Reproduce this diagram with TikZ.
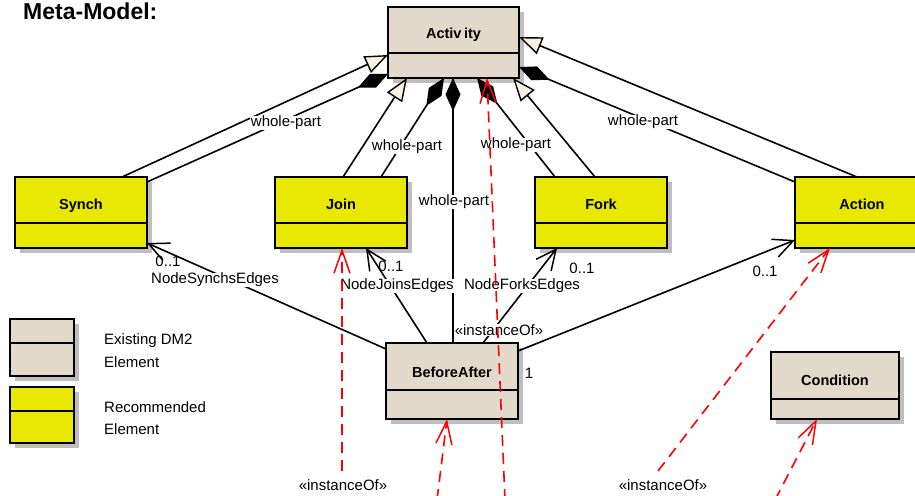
\documentclass[tikz,border=0pt]{standalone}
\usepackage{fontspec}
\setmainfont{Liberation Sans}
\usetikzlibrary{arrows.meta,calc,shadows}

\definecolor{oldfill}{RGB}{226,217,203}
\definecolor{newfill}{RGB}{232,232,0}
\definecolor{shade}{RGB}{190,190,190}
\definecolor{cream}{RGB}{250,240,225}
\definecolor{linkred}{RGB}{255,0,0}

\tikzset{
  classbox/.style={draw=black, line width=1.7pt, anchor=north west,
    inner sep=0pt, outer sep=0pt,
    drop shadow={shadow xshift=5pt, shadow yshift=-5pt, fill=shade, opacity=1}},
  divider/.style={draw=black, line width=1.7pt},
  classname/.style={anchor=base, font=\bfseries\fontsize{14.5}{14.5}\selectfont, inner sep=0pt},
  txt/.style={font=\fontsize{15}{15}\selectfont, inner sep=0.5pt},
  lbl/.style={txt, fill=white},
  gen/.style={draw=black, line width=1.6pt,
    -{Triangle[length=23pt,width=18pt,fill=cream,line width=1.4pt]}},
  comp/.style={draw=black, line width=1.6pt,
    -{Diamond[length=33pt,width=15pt,fill=black]}},
  assoc/.style={draw=black, line width=1.6pt,
    -{Straight Barb[length=20pt,width=19pt,line width=1.5pt]}},
  instof/.style={draw=linkred, line width=1.6pt, dash pattern=on 11pt off 7pt,
    -{Straight Barb[length=23pt,width=16pt,line width=1.5pt]}},
}

\begin{document}
\begin{tikzpicture}[x=1pt,y=-1pt]
\useasboundingbox (0,0) rectangle (915,495);
\clip (0,0) rectangle (915,495);

% title
\node[anchor=base west, inner sep=0pt, font=\bfseries\fontsize{23}{23}\selectfont] (title) at (23,20) {Meta-Model:};

% class boxes
\node[classbox, fill=oldfill, minimum width=131pt, minimum height=71pt] (act) at (388,7) {};
\draw[divider] ([yshift=-46pt]act.north west) -- ([yshift=-46pt]act.north east);
\node[classname] (actname) at ([yshift=-32pt]act.north) {Activ\kern2.5pt ity};

\node[classbox, fill=newfill, minimum width=132pt, minimum height=71pt] (synch) at (15,177) {};
\draw[divider] ([yshift=-46pt]synch.north west) -- ([yshift=-46pt]synch.north east);
\node[classname] (synchname) at ([yshift=-32pt]synch.north) {Synch};

\node[classbox, fill=newfill, minimum width=132pt, minimum height=71pt] (join) at (275,177) {};
\draw[divider] ([yshift=-46pt]join.north west) -- ([yshift=-46pt]join.north east);
\node[classname] (joinname) at ([yshift=-32pt]join.north) {Join};

\node[classbox, fill=newfill, minimum width=132pt, minimum height=71pt] (fork) at (535,177) {};
\draw[divider] ([yshift=-46pt]fork.north west) -- ([yshift=-46pt]fork.north east);
\node[classname] (forkname) at ([yshift=-32pt]fork.north) {Fork};

\node[classbox, fill=newfill, minimum width=134pt, minimum height=71pt] (action) at (795,177) {};
\draw[divider] ([yshift=-46pt]action.north west) -- ([yshift=-46pt]action.north east);
\node[classname] (actionname) at ([yshift=-32pt]action.north) {Action};

\node[classbox, fill=oldfill, minimum width=132pt, minimum height=76pt] (ba) at (386,343) {};
\draw[divider] ([yshift=-47pt]ba.north west) -- ([yshift=-47pt]ba.north east);
\node[classname] (baname) at ([yshift=-34pt]ba.north) {BeforeAfter};

\node[classbox, fill=oldfill, minimum width=128pt, minimum height=67pt] (cond) at (771,352) {};
\draw[divider] ([yshift=-47pt]cond.north west) -- ([yshift=-47pt]cond.north east);
\node[classname] (condname) at ([yshift=-33pt]cond.north) {Condition};

% legend
\node[classbox, fill=oldfill, minimum width=64pt, minimum height=57pt] (legold) at (10,319) {};
\draw[divider] ([yshift=-24pt]legold.north west) -- ([yshift=-24pt]legold.north east);
\node[txt, anchor=base west, inner sep=0pt] (legoldA) at (104,344) {Existing DM2};
\node[txt, anchor=base west, inner sep=0pt] (legoldB) at (104,367) {Element};

\node[classbox, fill=newfill, minimum width=64pt, minimum height=56pt] (legnew) at (10,387) {};
\draw[divider] ([yshift=-24pt]legnew.north west) -- ([yshift=-24pt]legnew.north east);
\node[txt, anchor=base west, inner sep=0pt] (legnewA) at (104,412) {Recommended};
\node[txt, anchor=base west, inner sep=0pt] (legnewB) at (104,434) {Element};

% generalizations
\draw[gen] ([xshift=107pt]synch.north west) -- ([yshift=-48pt]act.north west);
\draw[gen] ([xshift=68pt]join.north west) -- ([xshift=19pt]act.south west);
\draw[gen] ([xshift=60pt]fork.north west) -- ([xshift=125pt]act.south west);
\draw[gen] ([xshift=62pt]action.north west) -- ([yshift=-30pt]act.north east);

% compositions
\draw[comp] ([yshift=-5pt]synch.north east) -- ([yshift=4pt]act.south west);
\draw[comp] ([xshift=106pt]join.north west) -- ([xshift=56pt]act.south west);
\draw[comp] ([xshift=67pt]ba.north west) -- ([xshift=65pt]act.south west);
\draw[comp] ([xshift=20pt]fork.north west) -- ([xshift=89pt]act.south west);
\draw[comp] ([yshift=-5pt]action.north west) -- ([yshift=11pt]act.south east);

% associations
\draw[assoc] ([yshift=-6pt]ba.north west) -- ([yshift=5pt]synch.south east);
\draw[assoc] ([xshift=41pt]ba.north west) -- ([xshift=91pt]join.south west);
\draw[assoc] ([xshift=97pt]ba.north west) -- ([xshift=22pt]fork.south west);
\draw[assoc] ([yshift=-8pt]ba.north east) -- ([yshift=8pt]action.south west);

% composition labels
\node[lbl] (wp1) at (286,123) {whole-part};
\node[lbl] (wp2) at (407,147) {whole-part};
\node[lbl] (wp3) at (454,202) {whole-part};
\node[lbl] (wp4) at (516,145) {whole-part};
\node[lbl] (wp5) at (643,122) {whole-part};

% association ends and names
\node[txt] (m1) at (168,261) {0..1};
\node[lbl] (n1) at (215,280) {NodeSynchsEdges};
\node[txt] (m2) at (391,266) {0..1};
\node[lbl] (n2) at (397,286) {NodeJoinsEdges};
\node[txt] (m3) at (582,268) {0..1};
\node[lbl] (n3) at (522,286) {NodeForksEdges};
\node[txt] (m4) at (765,271) {0..1};
\node[txt] (m5) at (529,373) {1};

% instanceOf stereotypes
\node[lbl] (io1) at (499,330) {«instanceOf»};
\node[lbl] (io2) at (343,485) {«instanceOf»};
\node[lbl] (io3) at (663,485) {«instanceOf»};

% instanceOf dependencies
\coordinate (r1) at (342,471);
\coordinate (r2) at (437,500);
\coordinate (r3) at (505,500);
\coordinate (r4) at (658,471);
\coordinate (r5) at (775,500);
\draw[instof] (r1) -- ([xshift=67pt]join.south west);
\draw[instof] (r2) -- ([xshift=61pt]ba.south west);
\draw[instof] (r3) -- ([xshift=99pt]act.south west);
\draw[instof] (r4) -- ([xshift=35pt]action.south west);
\draw[instof] (r5) -- ([xshift=46pt]cond.south west);
\end{tikzpicture}
\end{document}
